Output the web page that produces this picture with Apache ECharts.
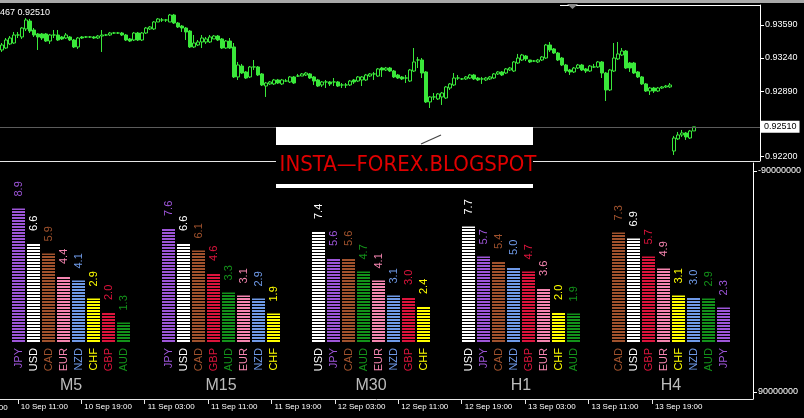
<!DOCTYPE html>
<html><head><meta charset="utf-8">
<script src="https://cdn.jsdelivr.net/npm/echarts@6/dist/echarts.min.js"></script>
<style>html,body{margin:0;padding:0;background:#000;overflow:hidden}#c{width:804px;height:418px}</style>
</head><body><div id="c"></div>
<script>
// ---- candle data (price x 1e5), 30-minute candles starting 10 Sep 09:00 ----
const opens=[93325,93346,93389,93399,93484,93463,93548,93632,93537,93495,
93495,93495,93420,93484,93484,93463,93452,93463,93431,93357,
93463,93463,93463,93463,93452,93473,93484,93484,93505,93505,
93505,93484,93442,93431,93505,93431,93505,93548,93548,93622,
93643,93643,93622,93696,93611,93579,93558,93526,93357,93378,
93410,93410,93410,93442,93473,93442,93346,93420,93357,93039,
93155,93092,93039,93145,93145,93071,92943,92965,92965,93007,
92965,92996,92986,93039,93049,93049,93060,93071,93039,93007,
92954,92986,92986,92986,92986,92954,92954,92954,93007,92996,
93007,93007,93049,93071,93049,93134,93113,93134,93102,93060,
93039,93028,92996,93102,93219,93219,93092,92774,92827,92806,
92827,92816,92922,92954,93028,93018,93018,93028,93060,93028,
93018,93007,93018,93028,93071,93092,93081,93113,93102,93187,
93219,93261,93219,93208,93198,93219,93240,93378,93336,93293,
93240,93166,93113,93092,93134,93166,93124,93102,93145,93145,
93198,93081,92901,93102,93230,93272,93314,93187,93187,93092,
93039,92965,92890,92922,92890,92922,92933,92933,92254,92382,
92424,92445,92392,92467];
const closes=[93378,93431,93452,93484,93484,93558,93643,93526,93484,93463,
93452,93420,93484,93484,93431,93442,93484,93431,93357,93452,
93452,93463,93463,93452,93473,93484,93484,93505,93505,93505,
93484,93431,93420,93505,93431,93505,93558,93569,93622,93654,
93643,93643,93696,93611,93569,93558,93516,93357,93399,93410,
93452,93442,93463,93473,93431,93346,93420,93346,93039,93166,
93081,93028,93145,93145,93060,92954,92975,92986,93007,92975,
93007,92996,93039,92975,93049,93071,93081,93028,92996,92943,
92986,92986,92965,92986,92943,92954,92954,92996,92986,93039,
93039,93060,93071,93071,93124,93113,93134,93102,93039,93028,
93018,93028,93113,93198,93219,93081,92774,92827,92827,92859,
92869,92933,92965,93028,93028,93018,93039,93060,93018,93007,
93018,93028,93039,93071,93092,93060,93124,93134,93198,93240,
93272,93230,93198,93208,93219,93251,93378,93325,93293,93219,
93166,93102,93092,93134,93166,93113,93102,93155,93145,93198,
93081,92901,93113,93240,93283,93314,93134,93134,93081,93039,
92965,92890,92922,92890,92922,92933,92943,92954,92392,92424,
92445,92403,92466,92510];
const lows=[93304,93336,93378,93389,93452,93442,93526,93505,93463,93325,
93431,93410,93389,93452,93420,93431,93442,93420,93346,93336,
93442,93452,93452,93442,93442,93304,93473,93473,93495,93495,
93473,93420,93410,93420,93420,93420,93495,93537,93537,93622,
93622,93622,93622,93601,93558,93516,93431,93346,93346,93367,
93346,93389,93399,93442,93420,93336,93336,93336,93028,93007,
93071,93018,93028,93113,93049,92943,92827,92954,92954,92965,
92954,92986,92975,92965,93039,93049,93049,93018,92954,92933,
92933,92922,92943,92943,92933,92922,92922,92943,92965,92986,
92943,92996,93039,93007,93039,93039,93102,93092,93028,93018,
93007,92975,92986,93092,93134,93028,92763,92710,92795,92795,
92742,92806,92901,92943,93007,93007,93007,93018,93007,92996,
92965,92996,93007,93018,93060,93049,93071,93102,93092,93177,
93208,93208,93187,93198,93187,93208,93230,93304,93283,93208,
93155,93081,93060,93081,93124,93102,93081,93092,93134,93134,
93028,92784,92890,93092,93219,93261,93124,93092,93071,93028,
92954,92880,92848,92869,92880,92912,92922,92922,92212,92371,
92403,92371,92382,92467];
const highs=[93399,93452,93473,93516,93516,93569,93664,93654,93558,93505,
93505,93505,93495,93537,93537,93473,93505,93473,93442,93463,
93473,93473,93473,93473,93484,93537,93495,93516,93516,93516,
93516,93495,93452,93516,93516,93516,93569,93579,93632,93664,
93664,93654,93707,93707,93622,93590,93569,93537,93484,93431,
93484,93463,93484,93484,93484,93452,93431,93452,93399,93198,
93177,93102,93155,93219,93155,93081,92986,92996,93018,93018,
93018,93018,93049,93049,93071,93081,93092,93081,93049,93018,
92996,93007,92996,93028,92996,92975,92975,93007,93018,93049,
93049,93071,93081,93092,93134,93145,93145,93145,93113,93071,
93049,93060,93124,93346,93251,93240,93102,92837,92869,92869,
92880,92943,92975,93081,93060,93028,93049,93071,93071,93039,
93039,93039,93049,93081,93102,93102,93134,93145,93208,93283,
93283,93272,93219,93219,93230,93261,93389,93410,93346,93304,
93251,93177,93124,93145,93177,93177,93134,93166,93177,93208,
93208,93092,93124,93399,93410,93346,93325,93198,93198,93102,
93049,92975,92933,92933,92933,92943,92954,92975,92414,92456,
92477,92456,92477,92510];

// ---- axis / tick labels ----
const priceTicks=[0.92200,0.92890,0.93240,0.93590];
const lastPrice=0.92510;
const headerText='467 0.92510';
const timeTicks=['10 Sep 11:00','10 Sep 19:00','11 Sep 03:00','11 Sep 11:00','11 Sep 19:00','12 Sep 03:00','12 Sep 11:00','12 Sep 19:00','13 Sep 03:00','13 Sep 11:00','13 Sep 19:00'];
const subTicks=[-90000000,90000000];

// ---- currency strength per timeframe ----
const groups=['M5','M15','M30','H1','H4'];
const m5Cur=['JPY','USD','CAD','EUR','NZD','CHF','GBP','AUD'];
const m5Val=[8.9,6.6,5.9,4.4,4.1,2.9,2.0,1.3];
const m15Cur=['JPY','USD','CAD','GBP','AUD','EUR','NZD','CHF'];
const m15Val=[7.6,6.6,6.1,4.6,3.3,3.1,2.9,1.9];
const m30Cur=['USD','JPY','CAD','AUD','EUR','NZD','GBP','CHF'];
const m30Val=[7.4,5.6,5.6,4.7,4.1,3.1,3.0,2.4];
const h1Cur=['USD','JPY','CAD','NZD','GBP','EUR','CHF','AUD'];
const h1Val=[7.7,5.7,5.4,5.0,4.7,3.6,2.0,1.9];
const h4Cur=['CAD','USD','GBP','EUR','CHF','NZD','AUD','JPY'];
const h4Val=[7.3,6.9,5.7,4.9,3.1,3.0,2.9,2.3];

const curColor={JPY:'#9d55d8',USD:'#ffffff',CAD:'#a0522d',EUR:'#f585b0',NZD:'#6f9ae8',CHF:'#ffff00',GBP:'#dc143c',AUD:'#13921a'};
const GREEN='#3ae83a';

function fontAvailable(name){
  const c=document.createElement('canvas').getContext('2d');
  const s='abcdefghijklmnopqrstuvwxyz0123456789';
  c.font='20px monospace'; const a=c.measureText(s).width;
  c.font="20px '"+name+"', monospace"; const b=c.measureText(s).width;
  return a!==b;
}
const SANS="'Liberation Sans', Arial, sans-serif";
const WM_FONT=fontAvailable('DejaVu Sans Condensed')?"22px 'DejaVu Sans Condensed', sans-serif":"19px "+SANS;

// ---- build ----
const SLOTS=190;
const slotNames=[]; for(let i=0;i<SLOTS;i++) slotNames.push(String(i));
const candles=opens.map((o,i)=>[o/1e5,closes[i]/1e5,lows[i]/1e5,highs[i]/1e5]);
const tickLabelBySlot={}; timeTicks.forEach((t,k)=>{tickLabelBySlot[4+16*k]=t;});

const groupCur=[m5Cur,m15Cur,m30Cur,h1Cur,h4Cur];
const groupVal=[m5Val,m15Val,m30Val,h1Val,h4Val];
const barCats=[], barData=[];
groupCur.forEach((cur,g)=>{
  cur.forEach((c,i)=>{
    barCats.push({value:c,textStyle:{color:curColor[c]}});
    barData.push({value:groupVal[g][i],itemStyle:{color:curColor[c]},label:{color:curColor[c]}});
  });
  barCats.push({value:'g'+g+'a'},{value:'g'+g+'b'});
  barData.push('-','-');
});
const groupPos=groups.map((g,k)=>k*10+3.5);

const chart=echarts.init(document.getElementById('c'),null,{renderer:'canvas'});
chart.setOption({
  backgroundColor:'#000',
  animation:false,
  title:{text:headerText,left:0,top:8,padding:0,textStyle:{color:'#fff',fontSize:9,fontWeight:'normal',fontFamily:SANS}},
  grid:[
    {left:0,top:5,width:760,height:156},
    {left:11,top:162,width:750,height:180},
    {left:0,top:163,width:760,height:236}
  ],
  xAxis:[
    {type:'category',gridIndex:0,data:slotNames,boundaryGap:true,axisLine:{show:false},axisTick:{show:false},axisLabel:{show:false},splitLine:{show:false}},
    {type:'category',gridIndex:1,data:barCats,axisLine:{show:false},axisTick:{show:false},splitLine:{show:false},
      axisLabel:{rotate:90,margin:6,fontSize:11,fontFamily:SANS,interval:0,formatter:(v)=>/^g\d/.test(v)?'':v}},
    {type:'value',gridIndex:1,min:-0.5,max:49.5,position:'bottom',axisLine:{show:false},axisTick:{show:false},splitLine:{show:false},
      axisLabel:{customValues:groupPos,formatter:(v)=>groups[Math.round((v-3.5)/10)],margin:36,fontSize:16,color:'#bdbdbd',fontFamily:SANS}},
    {type:'category',gridIndex:2,data:slotNames,position:'bottom',boundaryGap:true,
      axisLine:{show:true,onZero:false,lineStyle:{color:'#e8e8e8',width:1}},
      axisTick:{show:true,alignWithLabel:true,length:5,interval:(i)=>tickLabelBySlot[i]!==undefined,lineStyle:{color:'#e8e8e8'}},
      axisLabel:{interval:(i)=>tickLabelBySlot[i]!==undefined,formatter:(v,i)=>tickLabelBySlot[i]||'',align:'left',padding:[0,0,0,3],margin:4,fontSize:8,color:'#fff',fontFamily:SANS},
      splitLine:{show:false}}
  ],
  yAxis:[
    {type:'value',gridIndex:0,position:'right',min:0.92148,max:0.93802,splitLine:{show:false},
      axisLine:{show:true,lineStyle:{color:'#fff'}},
      axisTick:{show:true,length:4,customValues:priceTicks,lineStyle:{color:'#fff'}},
      axisLabel:{customValues:priceTicks,showMinLabel:true,showMaxLabel:true,hideOverlap:false,formatter:(v)=>v.toFixed(5),color:'#fff',fontSize:9,margin:5,fontFamily:SANS}},
    {type:'value',gridIndex:1,min:0,max:12,show:false},
    {type:'value',gridIndex:2,position:'right',inverse:true,min:-96515837,max:95701357,splitLine:{show:false},
      axisLine:{show:true,onZero:false,lineStyle:{color:'#fff'}},
      axisTick:{show:true,length:4,customValues:subTicks,lineStyle:{color:'#fff'}},
      axisLabel:{customValues:subTicks,showMinLabel:true,showMaxLabel:true,formatter:(v)=>String(Math.round(v)),color:'#fff',fontSize:9,margin:5,fontFamily:SANS}}
  ],
  series:[
    {type:'candlestick',xAxisIndex:0,yAxisIndex:0,data:candles,barWidth:3,
      itemStyle:{color:'#000',color0:GREEN,borderColor:GREEN,borderColor0:GREEN,borderWidth:1},
      markLine:{silent:true,precision:5,symbol:['none','none'],animation:false,data:[{yAxis:lastPrice}],
        lineStyle:{color:'#5c5c5c',type:'solid',width:1},
        label:{position:'end',formatter:lastPrice.toFixed(5),color:'#000',backgroundColor:'#fff',padding:[2,3,1,3],fontSize:9,distance:1,fontFamily:SANS}}},
    {type:'bar',xAxisIndex:1,yAxisIndex:1,data:barData,barWidth:13,
      itemStyle:{decal:{symbol:'rect',symbolSize:1,color:'#000',dashArrayX:[1,0],dashArrayY:[1,2]}},
      label:{show:true,position:'top',rotate:90,align:'left',verticalAlign:'middle',distance:10,offset:[2,0],fontSize:11,fontFamily:SANS,
        formatter:(p)=>Number(p.value).toFixed(1)}}
  ],
  graphic:[
    {type:'rect',shape:{x:0,y:0,width:804,height:3},style:{fill:'#a8a8a8'},z:100},
    {type:'line',shape:{x1:560,y1:5.5,x2:761,y2:5.5},style:{stroke:'#ffffff',lineWidth:1},z:100},
    {type:'polygon',shape:{points:[[567,4],[578,4],[572.5,9]]},style:{fill:'#8a8a8a'},z:101},
    {type:'line',shape:{x1:0,y1:161.5,x2:760,y2:161.5},style:{stroke:'#e6e6e6',lineWidth:1},z:100},
    {type:'rect',shape:{x:276,y:127,width:257,height:18},style:{fill:'#ffffff'},z:200},
    {type:'rect',shape:{x:276,y:145,width:257,height:39},style:{fill:'#000000'},z:200},
    {type:'rect',shape:{x:276,y:184,width:257,height:4},style:{fill:'#ffffff'},z:200},
    {type:'text',x:408,y:165,z:201,style:{text:'INSTA—FOREX.BLOGSPOT',fill:'#e00000',font:WM_FONT,textAlign:'center',textVerticalAlign:'middle'}},
    {type:'line',shape:{x1:421,y1:144,x2:441,y2:135},style:{stroke:'#444',lineWidth:1.2},z:201},
    {type:'text',x:-40,y:408,z:50,style:{text:'10 Sep 03:00',fill:'#fff',font:"8px "+SANS,textAlign:'left',textVerticalAlign:'middle'}}
  ]
});
</script></body></html>
